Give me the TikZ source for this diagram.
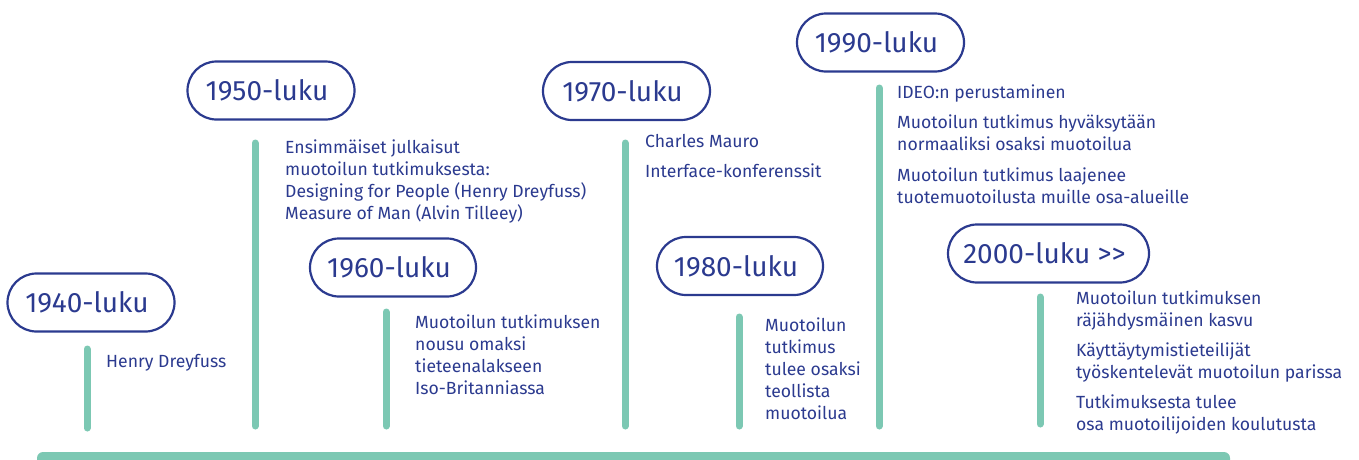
\documentclass[tikz,border=0pt]{standalone}
\usepackage{fontspec}
\setmainfont{Fira Sans}[Ligatures=NoCommon]
\definecolor{navy}{HTML}{2B3A8F}
\definecolor{mint}{HTML}{7CC8B3}
\begin{document}
\begin{tikzpicture}[x=1pt,y=-1pt,
  era/.style={draw=navy, line width=2.2pt, rounded corners=29pt, minimum height=58pt,
    inner sep=0pt, text=navy, font=\fontsize{28}{30}\selectfont,
    execute at end node={\hspace*{8pt}}},
  stem/.style={mint, line width=7pt, line cap=round},
  note/.style={anchor=base west, align=left, inner sep=0pt, text=navy,
    font=\fontsize{17.6}{22}\selectfont}]
\useasboundingbox (0,0) rectangle (1359,459);
\clip (0,0) rectangle (1359,459);

% baseline of the timeline
\fill[mint, rounded corners=6pt] (37,452) rectangle (1230,475);

% decade labels
\node[era, minimum width=167pt] (d40) at (91,302.5) {1940-luku};
\node[era, minimum width=167pt] (d50) at (271,90.5) {1950-luku};
\node[era, minimum width=166pt] (d60) at (393,267.5) {1960-luku};
\node[era, minimum width=167pt] (d70) at (626.5,91) {1970-luku};
\node[era, minimum width=166pt] (d80) at (740,266) {1980-luku};
\node[era, minimum width=167pt] (d90) at (880.5,42.5) {1990-luku};
\node[era, minimum width=201pt] (d00) at (1048.5,253.5) {2000-luku >{}>};

% stems
\draw[stem] (87,349) -- (87,428);
\draw[stem] (255,143) -- (255,426);
\draw[stem] (386,312) -- (386,426);
\draw[stem] (625,143) -- (625,426);
\draw[stem] (739,317) -- (739,426);
\draw[stem] (879,88) -- (879,426);
\draw[stem] (1040,297) -- (1040,424);

% events (anchored at the baseline of their last line)
\node[note] (e40) at (106,367) {Henry Dreyfuss};
\node[note] (e50) at (285,219) {Ensimmäiset julkaisut\\muotoilun tutkimuksesta:\\Designing for People (Henry Dreyfuss)\\Measure of Man (Alvin Tilleey)};
\node[note] (e60) at (415,394) {Muotoilun tutkimuksen\\nousu omaksi\\tieteenalakseen\\Iso-Britanniassa};
\node[note] (e70a) at (645,147) {Charles Mauro};
\node[note] (e70b) at (645,177) {Interface-konferenssit};
\node[note] (e80) at (765,419) {Muotoilun\\tutkimus\\tulee osaksi\\teollista\\muotoilua};
\node[note] (e90a) at (897,98) {IDEO:n perustaminen};
\node[note] (e90b) at (897,150) {Muotoilun tutkimus hyväksytään\\normaaliksi osaksi muotoilua};
\node[note] (e90c) at (897,203) {Muotoilun tutkimus laajenee\\tuotemuotoilusta muille osa-alueille};
\node[note] (e00a) at (1076,326) {Muotoilun tutkimuksen\\räjähdysmäinen kasvu};
\node[note] (e00b) at (1076,378) {Käyttäytymistieteilijät\\työskentelevät muotoilun parissa};
\node[note] (e00c) at (1076,430) {Tutkimuksesta tulee\\osa muotoilijoiden koulutusta};
\end{tikzpicture}
\end{document}
